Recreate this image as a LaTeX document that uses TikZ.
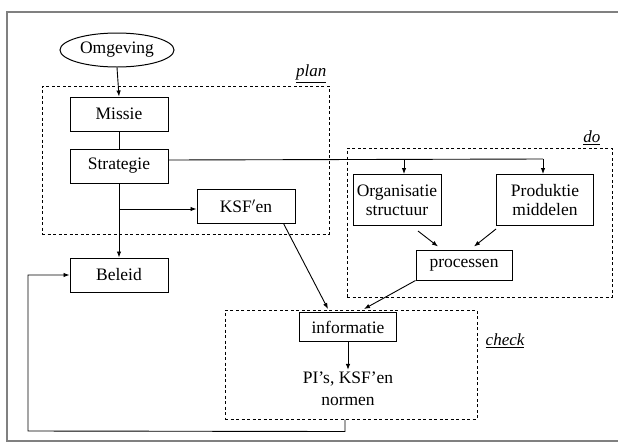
\documentclass[tikz,border=0pt]{standalone}
\usepackage{fontspec}
\setmainfont{Liberation Serif}
\usetikzlibrary{shapes.geometric,arrows.meta,calc}
\begin{document}
\begin{tikzpicture}[x=1pt,y=-1pt,
  txt/.style={font=\fontsize{17.5}{22}\selectfont},
  box/.style={txt,draw,line width=1pt,minimum width=98pt,minimum height=34pt,inner sep=0pt},
  grp/.style={draw,dash pattern=on 3pt off 2.5pt,line width=1pt,inner sep=0pt},
  arr/.style={-{Latex[length=6pt,width=4.5pt]},line width=0.9pt},
  ln/.style={line width=0.9pt},
  lbl/.style={font=\fontsize{17}{19}\selectfont\itshape,inner sep=0pt}]
\useasboundingbox (0,0) rectangle (618,445);
\draw[line width=1.5pt,gray] (7,12) rectangle (630,441);
% groups
\node[grp,minimum width=287pt,minimum height=148pt] (plan) at (185.5,160) {};
\node[grp,minimum width=265pt,minimum height=149pt] (do) at (479.5,222.5) {};
\node[grp,minimum width=252pt,minimum height=109pt] (check) at (351,364.5) {};
\node[lbl,anchor=south east] (planl) at ([xshift=-3pt,yshift=3pt]plan.north east) {\underline{plan}};
\node[lbl,anchor=south east] (dol) at ([xshift=-12pt,yshift=3pt]do.north east) {\underline{do}};
\node[lbl,anchor=west] (checkl) at ([xshift=8pt,yshift=-31pt]check.north east) {\underline{check}};
% nodes
\node[txt,draw,ellipse,line width=1pt,minimum width=114pt,minimum height=34pt,inner sep=0pt] (omg) at (117,50) {Omgeving};
\node[box] (missie) at (119,114) {Missie};
\node[box] (strat) at (119,166) {Strategie};
\node[box] (ksf) at (246,206) {KSF$'$en};
\node[box] (beleid) at (119,275) {Beleid};
\node[box,minimum width=88pt,minimum height=51pt,align=center] (org) at (397,200) {Organisatie\\[-3pt]structuur};
\node[box,minimum width=97pt,minimum height=51pt,align=center] (prod) at (545,200) {Produktie\\[-3pt]middelen};
\node[box,minimum width=96pt,minimum height=30pt] (proc) at (464,265) {processen};
\node[box,minimum width=97pt,minimum height=29pt] (info) at (348,327) {informatie};
\node[txt,align=center,inner sep=0pt] (pi) at (348,389) {PI's, KSF'en\\normen};
% connectors
\draw[arr] (omg.south) -- (missie.north);
\draw[ln] (missie.south) -- (strat.north);
\coordinate (s1) at ($(strat.east)+(0,-6)$);
\coordinate (b1) at ($(org.north)+(7,-15)$);
\coordinate (b2) at ($(prod.north)+(-2,-15)$);
\draw[ln] (s1) -- (b2);
\draw[arr] (b1) -- (b1 |- org.north);
\draw[arr] (b2) -- (b2 |- prod.north);
\draw[arr] (strat.south) -- (beleid.north);
\coordinate (k1) at ($(strat.south |- ksf.west)+(0,3)$);
\draw[arr] (k1) -- ($(ksf.west)+(0,3)$);
\draw[arr] ($(ksf.south east)+(-12,0)$) -- ($(info.north)+(-20,-3)$);
\draw[arr] ($(org.south)+(21,5)$) -- ($(proc.north)+(-26,-3)$);
\draw[arr] ($(prod.south west)+(0,3)$) -- ($(proc.north)+(10,-3)$);
\draw[arr] ($(proc.south west)$) -- ($(info.north)+(16,-3)$);
\draw[arr] (info.south) -- ($(pi.north)+(0,-2)$);
\coordinate (f1) at ($(check.south)+(-6,12)$);
\coordinate (f2) at (28,431);
\draw[arr] ($(check.south)+(-6,0)$) -- (f1) -- (f2) -- (f2 |- beleid.west) -- (beleid.west);
\end{tikzpicture}
\end{document}
